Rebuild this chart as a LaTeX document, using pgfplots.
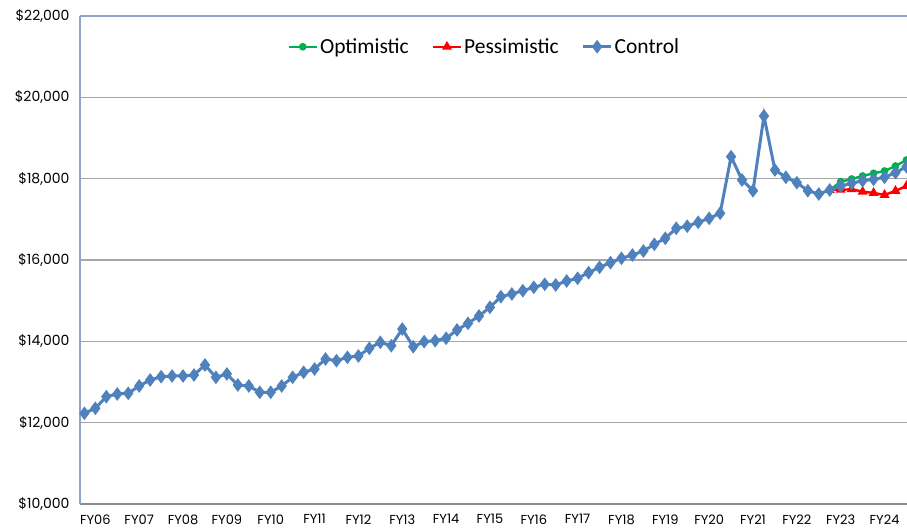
\documentclass[border=0pt]{standalone}
\usepackage{pgfplots}
\pgfplotsset{compat=1.18}
\usepackage{fontspec}
\setmainfont{Poppins}
\newfontfamily\legfont{Carlito}
\definecolor{ctrl}{HTML}{4F81BD}
\definecolor{opt}{HTML}{00B050}
\definecolor{pes}{HTML}{FF0000}
\definecolor{axblue}{HTML}{8EA4C8}
\begin{document}
\begin{tikzpicture}
\useasboundingbox (0,0) rectangle (907pt,529pt);
\begin{axis}[
  at={(80pt,25pt)}, anchor=south west,
  scale only axis, width=827pt, height=488pt,
  xmin=-0.4, xmax=75.05, ymin=10000, ymax=22000,
  clip mode=individual,
  scaled y ticks=false,
  xtick={1,5,...,73},
  xticklabels={FY06,FY07,FY08,FY09,FY10,FY11,FY12,FY13,FY14,FY15,FY16,FY17,FY18,FY19,FY20,FY21,FY22,FY23,FY24},
  ytick={10000,12000,...,22000},
  yticklabel={\$\pgfmathprintnumber{\tick}},
  /pgf/number format/.cd, 1000 sep={,}, fixed, precision=0, assume math mode=true,
  /pgfplots/.cd,
  major tick length=0pt,
  ymajorgrids, grid style={line width=1.3pt, color=black!35},
  axis x line*=bottom, axis y line*=left,
  x axis line style={line width=1.2pt, color=black!45, -},
  y axis line style={line width=1.2pt, color=axblue, -},
  yticklabel style={font=\fontsize{14}{14}\selectfont, color=black, xshift=-7pt},
  xticklabel style={font=\fontsize{13}{13}\selectfont, color=black, yshift=-7pt},
  legend columns=3,
  legend style={at={(0.489,0.937)}, anchor=center, draw=none, fill=none,
     font=\legfont\fontsize{21.5}{21.5}\selectfont,
     /tikz/every even column/.append style={column sep=21pt}},
  legend cell align=left,
  legend image code/.code={\draw[mark repeat=2,mark phase=2] plot coordinates {(0pt,0pt) (14pt,0pt) (28pt,0pt)};},
]
\draw[line width=1.2pt, color=axblue] (axis cs:-0.4,22000) -- (axis cs:75.05,22000);
\addplot[opt, line width=2.4pt, mark=*, mark size=2.6pt, mark options={solid}] coordinates {
(68,17721) (69,17925) (70,17992) (71,18066) (72,18132) (73,18188) (74,18311) (75,18459)};
\addlegendentry{Optimistic}
\addplot[pes, line width=2.4pt, mark=triangle*, mark size=3.4pt, mark options={solid}] coordinates {
(68,17721) (69,17725) (70,17740) (71,17680) (72,17650) (73,17600) (74,17700) (75,17820)};
\addlegendentry{Pessimistic}
\addplot[ctrl, line width=3pt, mark=diamond*, mark size=4.4pt, mark options={solid}] coordinates {
(0,12230) (1,12353) (2,12639) (3,12705) (4,12722) (5,12902) (6,13049) (7,13130)
(8,13148) (9,13148) (10,13172) (11,13418) (12,13115) (13,13197) (14,12926) (15,12902)
(16,12747) (17,12747) (18,12902) (19,13115) (20,13239) (21,13320) (22,13566) (23,13524)
(24,13607) (25,13639) (26,13829) (27,13976) (28,13893) (29,14303) (30,13868) (31,13991)
(32,14016) (33,14075) (34,14279) (35,14443) (36,14623) (37,14837) (38,15098) (39,15164)
(40,15245) (41,15329) (42,15402) (43,15385) (44,15484) (45,15550) (46,15688) (47,15820)
(48,15934) (49,16042) (50,16123) (51,16221) (52,16386) (53,16534) (54,16780) (55,16830)
(56,16927) (57,17025) (58,17148) (59,18540) (60,17967) (61,17704) (62,19541) (63,18213)
(64,18034) (65,17901) (66,17704) (67,17623) (68,17721) (69,17820) (70,17886) (71,17950)
(72,17984) (73,18034) (74,18147) (75,18294)};
\addlegendentry{Control}
\end{axis}
\end{tikzpicture}
\end{document}
